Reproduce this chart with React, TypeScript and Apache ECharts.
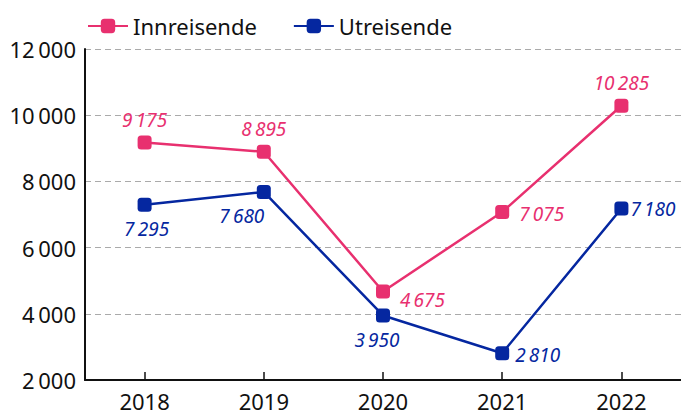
import React, { useEffect, useRef } from "react";
import * as echarts from "echarts";

const years = ["2018", "2019", "2020", "2021", "2022"];
const innreisende = [9175, 8895, 4675, 7075, 10285];
const utreisende = [7295, 7680, 3950, 2810, 7180];
const innPositions = ["top", "top", "right", "right", "top"];
const utPositions = ["bottom", "bottom", "bottom", "right", "right"];
const innOffsets = [[0, 0], [0, 0], [4, 9], [4, 2], [0, 0]];
const utOffsets = [[2, 2], [-22, 2], [-6, 2], [0, 2], [-4, 0]];

const PINK = "#e8306f";
const BLUE = "#0527a0";
const FONT = "Noto Sans";

const fmt = (v: number) => {
  const s = String(Math.round(v));
  return s.replace(/\B(?=(\d{3})+(?!\d))/g, "\u202F");
};

export default function App() {
  const ref = useRef<HTMLDivElement>(null);
  useEffect(() => {
    if (!ref.current) return;
    const chart = echarts.init(ref.current, null, { renderer: "svg" });
    const mk = (vals: number[], pos: string[], offs: number[][], color: string) =>
      vals.map((v, i) => ({
        value: v,
        label: {
          show: true,
          position: pos[i],
          offset: offs[i],
          distance: 6,
          color,
          fontStyle: "italic",
          fontSize: 19,
          fontFamily: FONT,
          formatter: (p: any) => fmt(p.value),
        },
      }));
    chart.setOption({
      animation: false,
      textStyle: { fontFamily: FONT },
      legend: {
        left: 82,
        top: 10,
        itemWidth: 40,
        itemHeight: 18,
        itemGap: 36,
        textStyle: { fontSize: 22, color: "#111", fontFamily: FONT },
        data: ["Innreisende", "Utreisende"],
      },
      grid: { left: 85, right: 0, top: 49, bottom: 37, containLabel: false },
      xAxis: {
        type: "category",
        data: years,
        boundaryGap: true,
        axisLine: { lineStyle: { color: "#111", width: 2 } },
        axisTick: { show: true, inside: true, length: 8, alignWithLabel: true, lineStyle: { color: "#111", width: 1.5 } },
        axisLabel: { fontSize: 22, color: "#111", margin: 10, fontFamily: FONT },
      },
      yAxis: {
        type: "value",
        min: 2000,
        max: 12000,
        interval: 2000,
        axisLine: { show: true, lineStyle: { color: "#111", width: 2 } },
        axisTick: { show: false },
        axisLabel: { fontSize: 22, color: "#111", margin: 9, fontFamily: FONT, formatter: (v: number) => fmt(v) },
        splitLine: { lineStyle: { color: "#aaa", type: [6, 4], width: 1.2 } },
      },
      series: [
        {
          name: "Innreisende",
          type: "line",
          data: mk(innreisende, innPositions, innOffsets, PINK),
          color: PINK,
          symbol: "roundRect",
          symbolSize: 14,
          lineStyle: { width: 2.5, color: PINK },
          itemStyle: { color: PINK },
        },
        {
          name: "Utreisende",
          type: "line",
          data: mk(utreisende, utPositions, utOffsets, BLUE),
          color: BLUE,
          symbol: "roundRect",
          symbolSize: 14,
          lineStyle: { width: 2.5, color: BLUE },
          itemStyle: { color: BLUE },
        },
      ],
    });
    return () => chart.dispose();
  }, []);
  return <div ref={ref} style={{ width: 681, height: 417, position: "absolute", left: 0, top: 0 }} />;
}
